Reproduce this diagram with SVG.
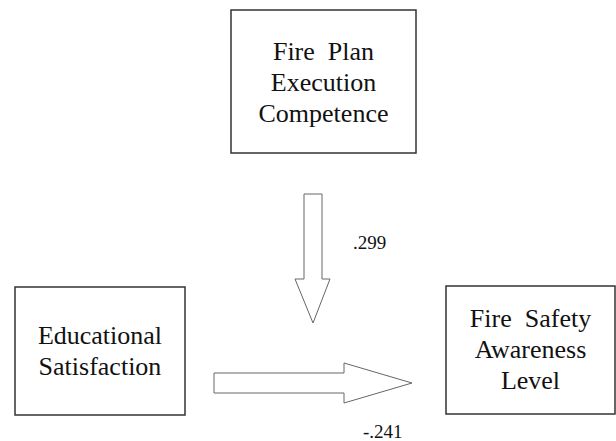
<svg xmlns="http://www.w3.org/2000/svg" width="616" height="441" viewBox="0 0 616 441">
<style>
.box{fill:#fff;stroke:#333;stroke-width:1.5}
.lbl{font-family:"Liberation Serif","Times New Roman",serif;font-size:26px;fill:#111;text-anchor:middle;white-space:pre}
.num{font-family:"Liberation Serif","Times New Roman",serif;font-size:19px;fill:#111}
.arr{fill:#fff;stroke:#666;stroke-width:1}
</style>
<rect width="616" height="441" fill="#fff"/>
<g id="node-fpec">
<rect class="box" x="231" y="10" width="185" height="143"/>
<text class="lbl" x="323.5" y="60" xml:space="preserve">Fire  Plan</text>
<text class="lbl" x="323.5" y="91">Execution</text>
<text class="lbl" x="323.5" y="122">Competence</text>
</g>
<g id="node-es">
<rect class="box" x="15" y="287" width="170" height="128"/>
<text class="lbl" x="100" y="344">Educational</text>
<text class="lbl" x="100" y="375">Satisfaction</text>
</g>
<g id="node-fsal">
<rect class="box" x="446" y="286" width="169" height="128"/>
<text class="lbl" x="530.5" y="327" xml:space="preserve">Fire  Safety</text>
<text class="lbl" x="530.5" y="358">Awareness</text>
<text class="lbl" x="530.5" y="389">Level</text>
</g>
<g id="connectors">
<polygon class="arr" points="304,194 322,194 322,279 330,279 313,323 295,279 304,279"/>
<text class="num" x="353" y="249">.299</text>
<polygon class="arr" points="214,373 344,373 344,363 412,383 344,403 344,393 214,393"/>
<text class="num" x="363" y="438">-.241</text>
</g>
</svg>
